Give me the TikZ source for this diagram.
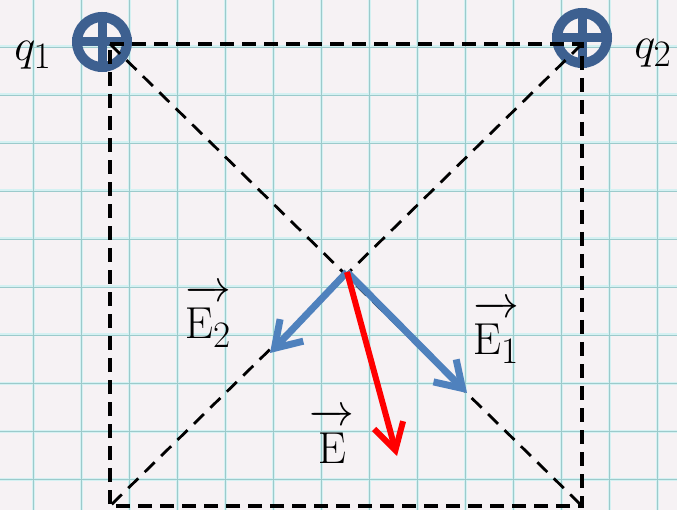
\documentclass[tikz,border=0pt]{standalone}
\usetikzlibrary{arrows.meta}
\definecolor{paper}{HTML}{F6F2F4}
\definecolor{gridglow}{HTML}{D4F1F2}
\definecolor{gridline}{HTML}{9CCACB}
\definecolor{chargeblue}{HTML}{3D6090}
\definecolor{fieldblue}{HTML}{4F81BD}
\definecolor{fieldred}{HTML}{FF0000}
\newcommand{\vecsym}[1]{\overrightarrow{\rule{0pt}{0.88em}#1}}
\begin{document}
\begin{tikzpicture}[x=1pt,y=-1pt,
  charge/.style={circle, draw=chargeblue, line width=10pt, minimum size=50pt, inner sep=0pt},
  plusbar/.style={draw=chargeblue, line width=9pt},
  sqline/.style={draw=black, line width=4.5pt, dash pattern=on 14pt off 8pt},
  diagline/.style={draw=black, line width=2.8pt, dash pattern=on 14pt off 9pt},
  bluevec/.style={draw=fieldblue, line width=7pt, -{Straight Barb[length=25pt,width=32pt,line width=7pt]}},
  redvec/.style={draw=fieldred, line width=6pt, -{Straight Barb[length=26pt,width=30pt,line width=6pt]}},
  lbl/.style={font=\Huge, inner sep=0pt, scale=1.8, transform shape}]
\useasboundingbox (0,0) rectangle (677,510);
\fill[paper] (0,0) rectangle (677,510);
% grid
\foreach \i in {0,...,13} {
  \draw[gridglow, line width=3pt] (33.5+48*\i,0) -- (33.5+48*\i,510);
}
\foreach \j in {0,...,9} {
  \draw[gridglow, line width=3pt] (0,47+48*\j) -- (677,47+48*\j);
}
\foreach \i in {0,...,13} {
  \draw[gridline, line width=0.8pt] (33.5+48*\i,0) -- (33.5+48*\i,510);
}
\foreach \j in {0,...,9} {
  \draw[gridline, line width=0.8pt] (0,47+48*\j) -- (677,47+48*\j);
}
% charges
\node[charge] (q1) at (102,42) {};
\draw[plusbar] (q1.north) -- (q1.south) (q1.west) -- (q1.east);
\node[charge] (q2) at (582,38) {};
\draw[plusbar] (q2.north) -- (q2.south) (q2.west) -- (q2.east);
% square corners
\coordinate (A) at (110,44);
\coordinate (B) at (582,44);
\coordinate (C) at (582,506);
\coordinate (D) at (110,506);
\draw[sqline] (A) -- (B) -- (C) -- (D) -- cycle;
\draw[diagline] (A) -- (C);
\draw[diagline] (B) -- (D);
% field vectors
\coordinate (O) at (347,272);
\coordinate (E2tip) at (270,353);
\coordinate (E1tip) at (467,393);
\coordinate (Etip) at (397,456);
\draw[bluevec] (O) -- (E2tip);
\draw[bluevec] (O) -- (E1tip);
\draw[redvec] (O) -- (Etip);
% labels
\node[lbl] (lq1) at (33,55) {$q_1$};
\node[lbl] (lq2) at (653,53) {$q_2$};
\node[lbl] (lE2) at (208,316) {$\vecsym{\mathrm{E}_2}$};
\node[lbl] (lE1) at (496,332) {$\vecsym{\mathrm{E}_1}$};
\node[lbl] (lE) at (332,436) {$\vecsym{\mathrm{E}}$};
\end{tikzpicture}
\end{document}
